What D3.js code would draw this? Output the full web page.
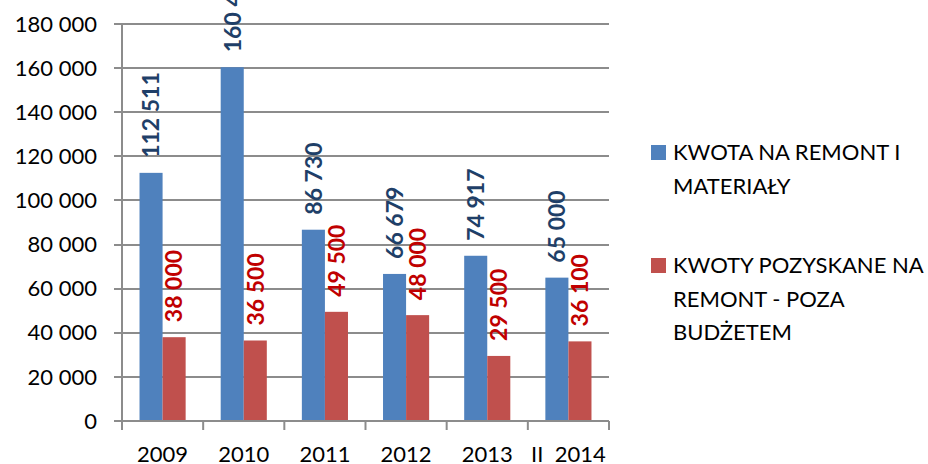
<!DOCTYPE html>
<html>
<head>
<meta charset="utf-8">
<script src="https://cdn.jsdelivr.net/npm/d3@7"></script>
<style>
  body { margin: 0; background: #fff; }
  text { font-family: Lato, "Open Sans", sans-serif; }
</style>
</head>
<body>
<svg width="928" height="464"></svg>
<script>
// chart data
var years = ["2009", "2010", "2011", "2012", "2013", "II 2014"];
var seriesNames = ["KWOTA NA REMONT I MATERIAŁY", "KWOTY POZYSKANE NA REMONT - POZA BUDŻETEM"];
var kwotaRemont = [112511, 160400, 86730, 66679, 74917, 65000];
var kwotyPozyskane = [38000, 36500, 49500, 48000, 29500, 36100];
var yTicks = [0, 20000, 40000, 60000, 80000, 100000, 120000, 140000, 160000, 180000];
var legendLines = [["KWOTA NA REMONT I", "MATERIAŁY"], ["KWOTY POZYSKANE NA", "REMONT - POZA", "BUDŻETEM"]];

var colors = ["#4f81bd", "#c0504d"];
var labelColors = ["#1f3f68", "#c00000"];

var svg = d3.select("svg");
var plotLeft = 122, plotRight = 609, plotTop = 24, plotBottom = 421;

var fmt = function(v) { return d3.format(",")(v).replace(/,/g, " "); };

var y = d3.scaleLinear().domain([0, 180000]).range([plotBottom, plotTop]);
var x0 = d3.scaleBand().domain(years).range([plotLeft, plotRight]).padding(0);
var x1 = d3.scaleBand().domain([0, 1]).range([0, x0.bandwidth()])
           .paddingInner(0).paddingOuter(0.76);

// gridlines + y ticks
svg.append("g")
   .selectAll("line")
   .data(yTicks)
   .enter()
   .append("line")
   .attr("x1", plotLeft - 8)
   .attr("x2", plotRight)
   .attr("y1", function(d) { return Math.round(y(d)); })
   .attr("y2", function(d) { return Math.round(y(d)); })
   .attr("stroke", "#8c8c8c")
   .attr("stroke-width", 2);

svg.append("g")
   .selectAll("text")
   .data(yTicks)
   .enter()
   .append("text")
   .attr("x", 97)
   .attr("y", function(d) { return y(d); })
   .attr("dy", "0.35em")
   .attr("text-anchor", "end")
   .attr("font-size", 22)
   .attr("fill", "#000")
   .text(function(d) { return fmt(d); });

// y axis line
svg.append("line")
   .attr("x1", plotLeft).attr("x2", plotLeft)
   .attr("y1", plotTop).attr("y2", plotBottom + 8)
   .attr("stroke", "#8c8c8c").attr("stroke-width", 2);

// x axis ticks at category boundaries
var bounds = years.map(function(d) { return x0(d); }).concat([plotRight]);
svg.append("g")
   .selectAll("line")
   .data(bounds)
   .enter()
   .append("line")
   .attr("x1", function(d) { return d; })
   .attr("x2", function(d) { return d; })
   .attr("y1", plotBottom)
   .attr("y2", plotBottom + 9)
   .attr("stroke", "#8c8c8c")
   .attr("stroke-width", 2);

// bars
var data = years.map(function(yr, i) {
    return { year: yr, values: [kwotaRemont[i], kwotyPozyskane[i]] };
});

var groups = svg.append("g")
   .selectAll("g")
   .data(data)
   .enter()
   .append("g")
   .attr("transform", function(d) { return "translate(" + x0(d.year) + ",0)"; });

groups.selectAll("rect")
   .data(function(d) { return d.values.map(function(v, s) { return { s: s, v: v }; }); })
   .enter()
   .append("rect")
   .attr("x", function(d) { return x1(d.s); })
   .attr("width", x1.bandwidth())
   .attr("y", function(d) { return y(d.v); })
   .attr("height", function(d) { return plotBottom - y(d.v); })
   .attr("fill", function(d) { return colors[d.s]; });

// value labels, rotated
groups.selectAll("text")
   .data(function(d) { return d.values.map(function(v, s) { return { s: s, v: v }; }); })
   .enter()
   .append("text")
   .attr("transform", function(d) {
       return "translate(" + (x1(d.s) + x1.bandwidth() / 2) + "," + (y(d.v) - 15) + ") rotate(-90)";
   })
   .attr("dy", "0.36em")
   .attr("font-size", 23)
   .attr("font-weight", "bold")
   .attr("fill", function(d) { return labelColors[d.s]; })
   .text(function(d) { return fmt(d.v); });

// x axis line
svg.append("line")
   .attr("x1", plotLeft - 8).attr("x2", plotRight)
   .attr("y1", plotBottom).attr("y2", plotBottom)
   .attr("stroke", "#8c8c8c").attr("stroke-width", 2);

// category labels
svg.append("g")
   .selectAll("text")
   .data(years)
   .enter()
   .append("text")
   .attr("x", function(d) { return x0(d) + x0.bandwidth() / 2; })
   .attr("y", 462)
   .attr("text-anchor", "middle")
   .attr("font-size", 22)
   .attr("fill", "#000")
   .style("white-space", "pre")
   .text(function(d) { return d.replace(" ", "  "); });

// legend
var legend = svg.append("g")
   .selectAll("g")
   .data(legendLines)
   .enter()
   .append("g")
   .attr("transform", function(d, i) { return "translate(651," + (i === 0 ? 145 : 258) + ")"; });

legend.append("rect")
   .attr("width", 15)
   .attr("height", 15)
   .attr("fill", function(d, i) { return colors[i]; });

legend.each(function(lines) {
    var t = d3.select(this).append("text")
              .attr("font-size", 22)
              .attr("fill", "#000");
    t.selectAll("tspan")
     .data(lines)
     .enter()
     .append("tspan")
     .attr("x", 22)
     .attr("y", function(d, j) { return 15 + j * 33.5; })
     .text(function(d) { return d; });
});
</script>
</body>
</html>
